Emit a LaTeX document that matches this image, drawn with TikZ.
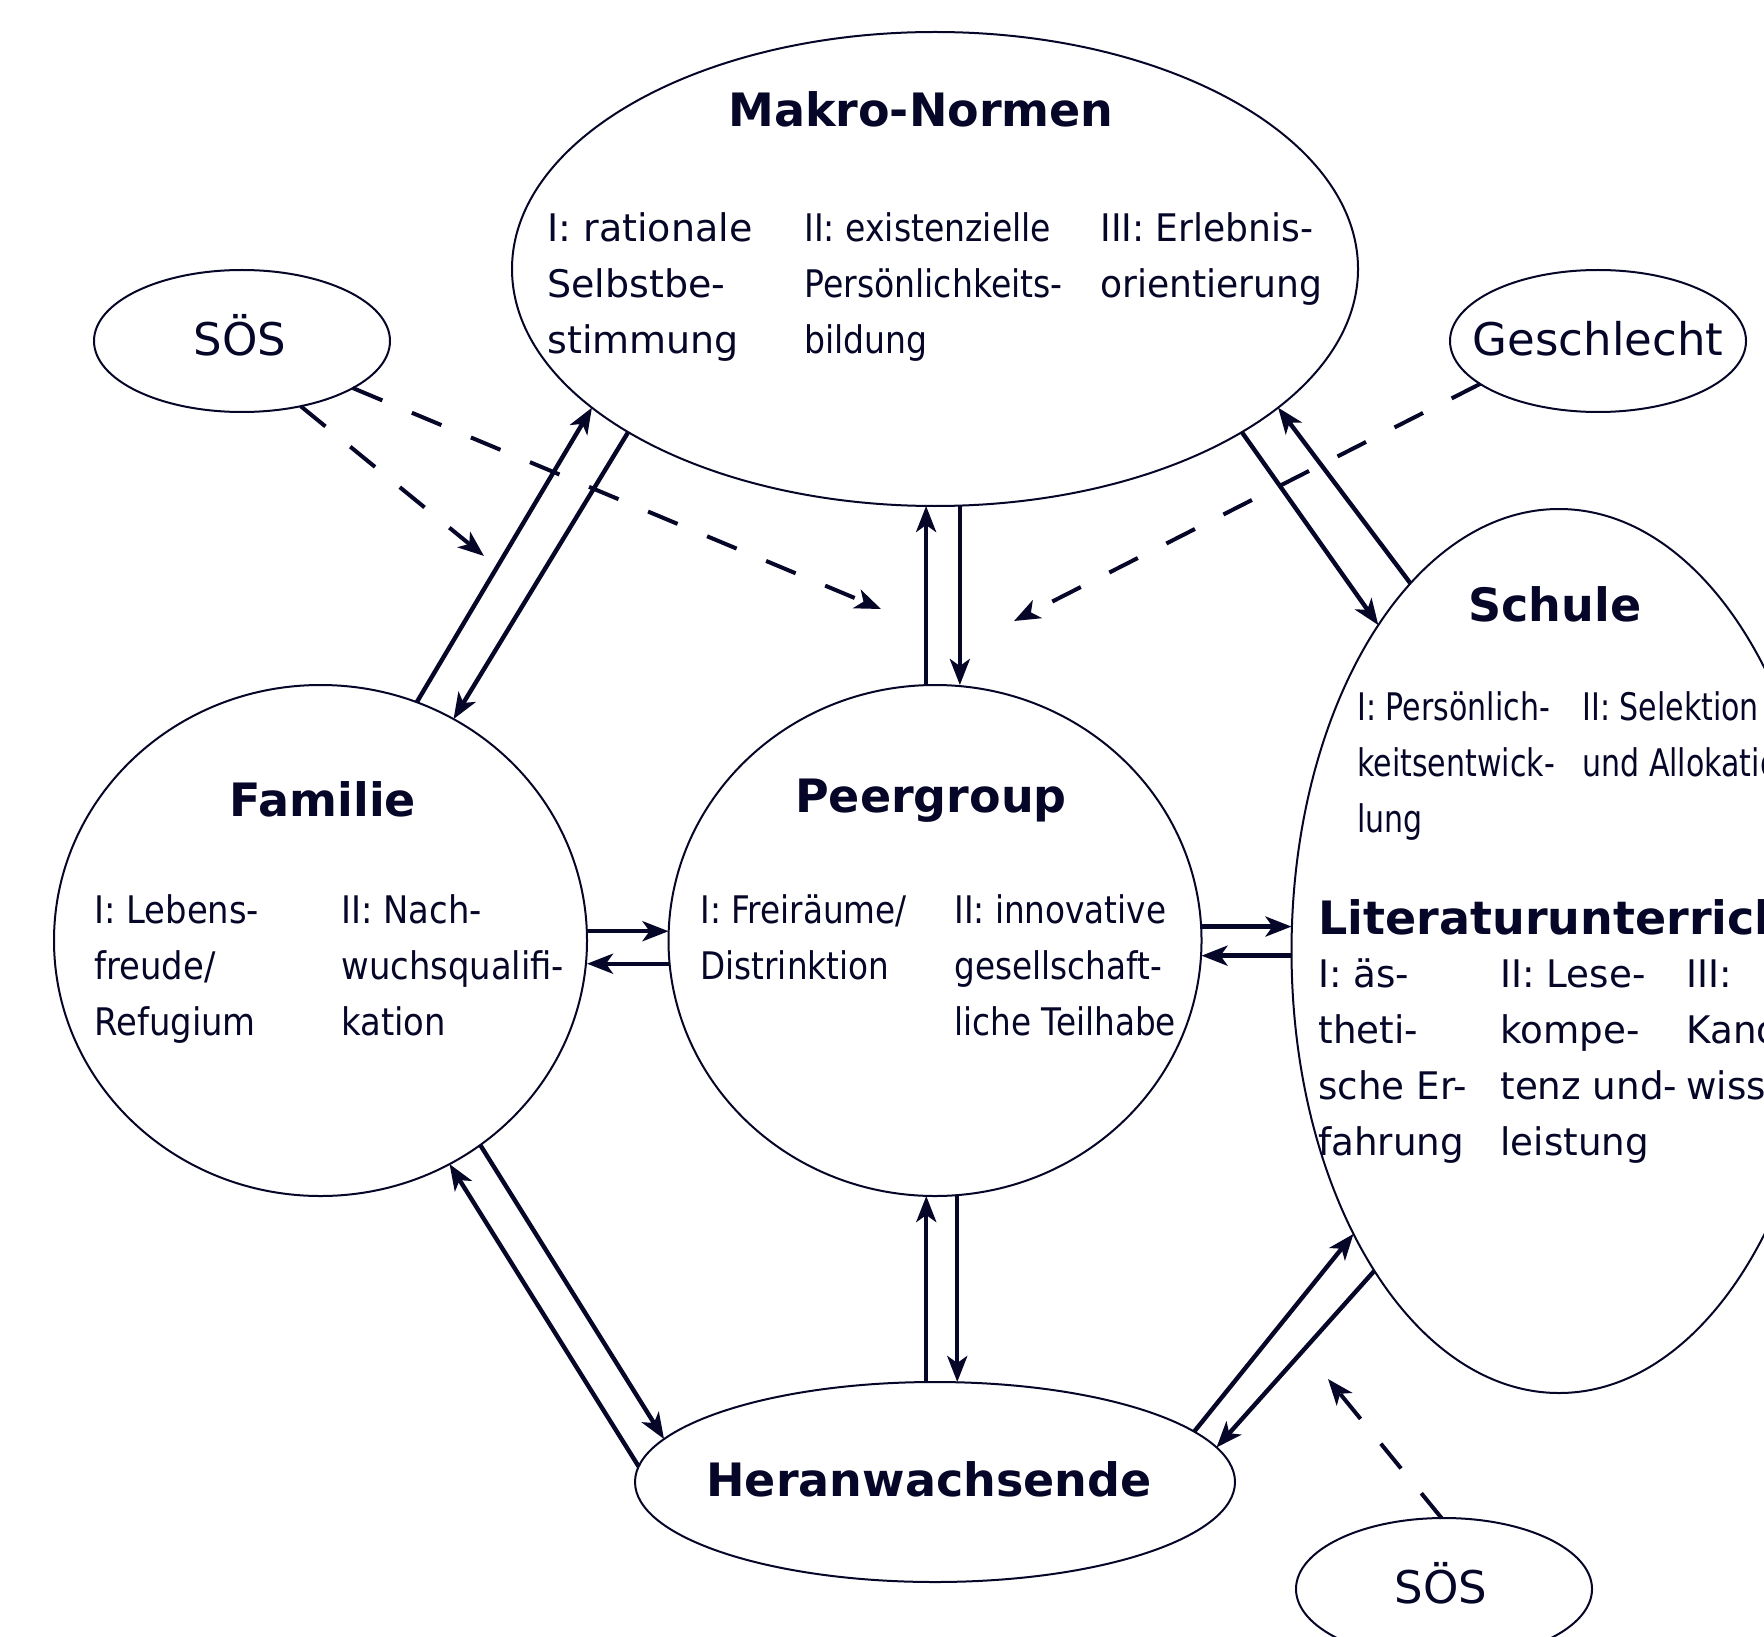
\documentclass[tikz,border=0pt]{standalone}
\usepackage{fontspec}
\setmainfont{DejaVu Sans}
\newfontfamily\fMa[FakeStretch=1.0]{DejaVu Sans}
\newfontfamily\fMb[FakeStretch=0.87]{DejaVu Sans}
\newfontfamily\fMc[FakeStretch=0.95]{DejaVu Sans}
\newfontfamily\fFam[FakeStretch=0.89]{DejaVu Sans}
\newfontfamily\fPeer[FakeStretch=0.86]{DejaVu Sans}
\newfontfamily\fSch[FakeStretch=0.79]{DejaVu Sans}
\newfontfamily\fLit[FakeStretch=0.98]{DejaVu Sans}
\usetikzlibrary{shapes.geometric,arrows.meta}
\definecolor{navy}{RGB}{6,6,40}
\newcommand\itemcol[2]{{#1\fontsize{19pt}{28pt}\selectfont\begin{tabular}[t]{@{}l@{}}#2\end{tabular}}}
\tikzset{
  ell/.style={draw=navy, line width=1pt, ellipse, inner sep=0pt, outer sep=0pt},
  ttl/.style={text=navy, inner sep=0pt, anchor=base, font=\fontsize{23pt}{28pt}\selectfont\bfseries},
  lbl/.style={text=navy, inner sep=0pt, anchor=base, font=\fontsize{22.5pt}{28pt}\selectfont},
  itm/.style={text=navy, inner sep=0pt, anchor=base west},
  arr/.style={draw=navy, line width=2.2pt, -{Stealth[length=13pt,width=10pt,inset=3.5pt]}},
  darr/.style={draw=navy, line width=2pt, dash pattern=on 16pt off 16pt, -{Stealth[length=13pt,width=10pt,inset=3.5pt]}}
}
\begin{document}
\begin{tikzpicture}[x=0.5pt,y=-0.5pt]
\fill[white] (0,0) rectangle (1764,1636);
\clip (0,0) rectangle (1764,1636);
% shapes
\node[ell, minimum width=423pt, minimum height=237pt] (makro) at (935,269) {};
\node[ell, minimum width=148pt, minimum height=71pt] (sos1) at (242,341) {};
\node[ell, minimum width=148pt, minimum height=71pt] (gesch) at (1598,341) {};
\node[ell, minimum width=266.5pt, minimum height=255.5pt] (fam) at (320.5,940.5) {};
\node[ell, minimum width=266.5pt, minimum height=255.5pt] (peer) at (935,940.5) {};
\node[ell, minimum width=267.5pt, minimum height=442pt] (schule) at (1559,951) {};
\node[ell, minimum width=300pt, minimum height=100pt] (heran) at (935,1482) {};
\node[ell, minimum width=148pt, minimum height=71pt] (sos2) at (1444,1589) {};
% titles
\node[ttl] (tmakro) at (921,127) {Makro-Normen};
\node[ttl] (tfam) at (323,816) {Familie};
\node[ttl] (tpeer) at (931,812) {Peergroup};
\node[ttl] (tsch) at (1555,621) {Schule};
\node[ttl, anchor=base west] (tlit) at (1318,934) {Literaturunterricht};
\node[ttl] (theran) at (929,1496) {Heranwachsende};
\node[lbl] (lsos1) at (240,356) {SÖS};
\node[lbl] (lgesch) at (1598,356) {Geschlecht};
\node[lbl] (lsos2) at (1441,1603) {SÖS};
% item texts
\node[itm] (m1) at (547,242) {\itemcol{\fMa}{I: rationale\\Selbstbe-\\stimmung}};
\node[itm] (m2) at (804,242) {\itemcol{\fMb}{II: existenzielle\\Persönlichkeits-\\bildung}};
\node[itm] (m3) at (1100,242) {\itemcol{\fMc}{III: Erlebnis-\\orientierung}};
\node[itm] (f1) at (94,923) {\itemcol{\fFam}{I: Lebens-\\freude/\\Refugium}};
\node[itm] (f2) at (341,923) {\itemcol{\fFam}{II: Nach-\\wuchsqualifi-\\kation}};
\node[itm] (p1) at (700,923) {\itemcol{\fPeer}{I: Freiräume/\\Distrinktion}};
\node[itm] (p2) at (954,923) {\itemcol{\fPeer}{II: innovative\\gesellschaft-\\liche Teilhabe}};
\node[itm] (s1) at (1357,720) {\itemcol{\fSch}{I: Persönlich-\\keitsentwick-\\lung}};
\node[itm] (s2) at (1582,720) {\itemcol{\fSch}{II: Selektion\\und Allokation}};
\node[itm] (l1) at (1318,987) {\itemcol{\fLit}{I: äs-\\theti-\\sche Er-\\fahrung}};
\node[itm] (l2) at (1500,987) {\itemcol{\fLit}{II: Lese-\\kompe-\\tenz und-\\leistung}};
\node[itm] (l3) at (1686,987) {\itemcol{\fLit}{III:\\Kanon-\\wissen}};
% solid connectors
\draw[arr] (fam.68.75) -- (makro.202.3);
\draw[arr] (makro.208.4) -- (fam.59.1);
\draw[arr] (peer.92.2) -- (peer.92.2 |- makro.south);
\draw[arr] (makro.276) -- (makro.276 |- peer.north);
\draw[arr] (makro.332.4) -- (schule.119.4);
\draw[arr] (schule.112.8) -- (makro.338.6);
\draw[arr] (fam.2.2) -- (fam.2.2 -| peer.west);
\draw[arr] (peer.185) -- (peer.185 -| fam.east);
\draw[arr] (peer.3.3) -- (peer.3.3 -| schule.west);
\draw[arr] (schule.181.5) -- (schule.181.5 -| peer.east);
\draw[arr] (heran.177) -- (fam.300.8);
\draw[arr] (fam.308.2) -- (heran.171.1);
\draw[arr] (heran.95.7) -- (heran.95.7 |- peer.south);
\draw[arr] (peer.275.5) -- (peer.275.5 |- heran.north);
\draw[arr] (heran.11.5) -- (schule.234.4);
\draw[arr] (schule.240) -- (heran.7.5);
% dashed connectors
\coordinate (d1) at (484,556);
\coordinate (d2) at (881,609);
\coordinate (d3) at (1014,621);
\coordinate (d4) at (1328,1379);
\draw[darr] (sos1.312.8) -- (d1);
\draw[darr] (sos1.337.5) -- (d2);
\draw[darr] (gesch.200.8) -- (d3);
\draw[darr] (sos2.92.4) -- (d4);
\end{tikzpicture}
\end{document}
